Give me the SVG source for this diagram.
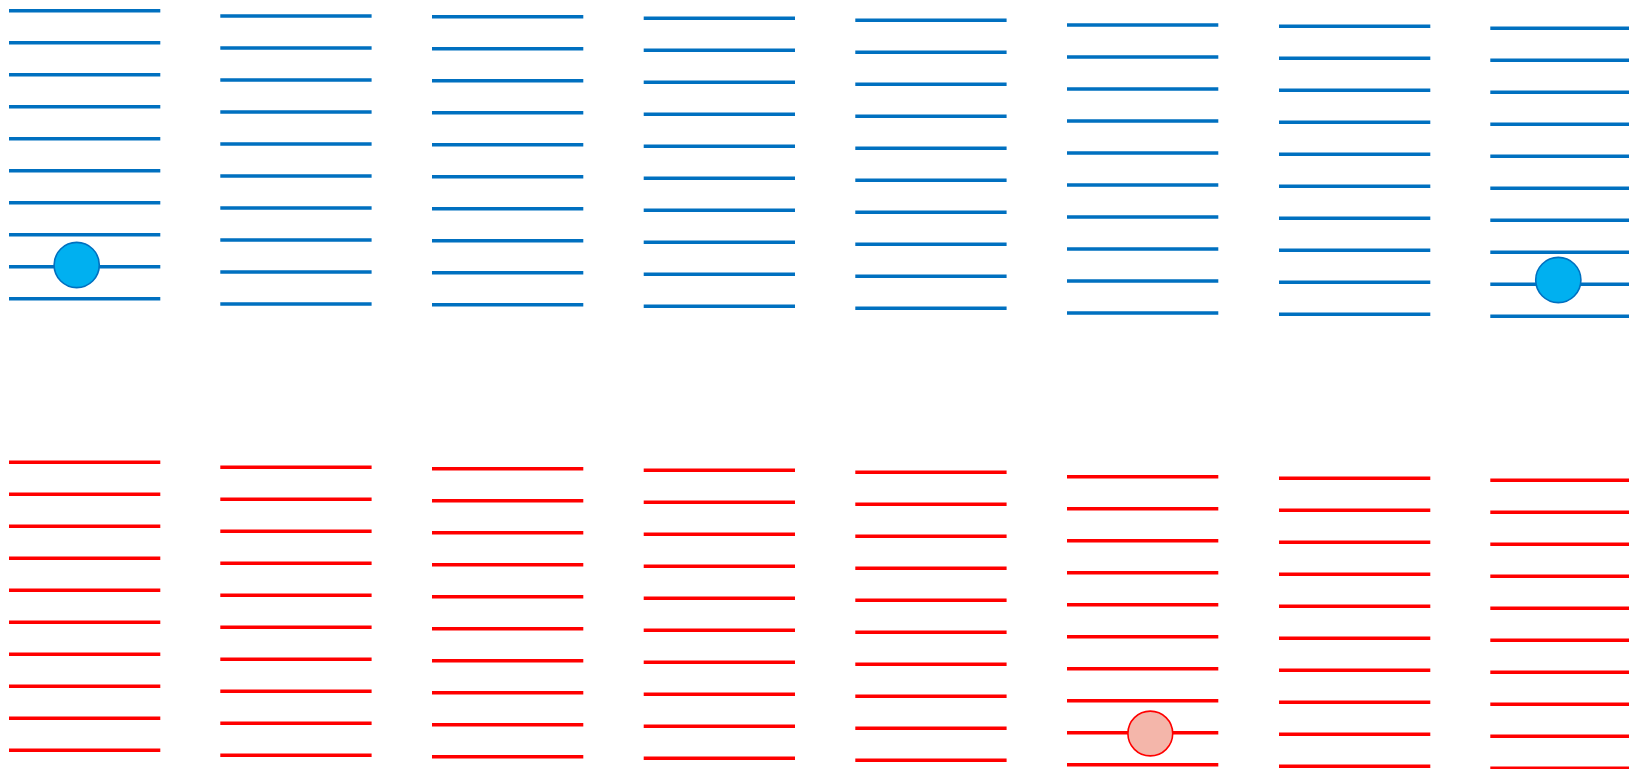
<svg xmlns="http://www.w3.org/2000/svg" width="1629" height="769" viewBox="0 0 1629 769">
<defs>
<style>
.b{stroke:#0070C0;stroke-width:3.4;fill:none}
.r{stroke:#FF0000;stroke-width:3.4;fill:none}
.bc{fill:#00B0F0;stroke:#0070C0;stroke-width:1.6}
.rc{fill:#F4B6AA;stroke:#FF0000;stroke-width:1.6}
</style>
<path id="bl" d="M0 0H151.3M0 32H151.3M0 64H151.3M0 96H151.3M0 128H151.3M0 160H151.3M0 192H151.3M0 224H151.3M0 256H151.3M0 288H151.3"/>
</defs>
<rect width="1629" height="769" fill="#FFFFFF"/>
<g id="blue-row">
<g id="blue-1"><use href="#bl" class="b" x="9" y="10.7"/></g>
<g id="blue-2"><use href="#bl" class="b" x="220.3" y="16"/></g>
<g id="blue-3"><use href="#bl" class="b" x="432" y="16.7"/></g>
<g id="blue-4"><use href="#bl" class="b" x="643.7" y="18.3"/></g>
<g id="blue-5"><use href="#bl" class="b" x="855.3" y="20.3"/></g>
<g id="blue-6"><use href="#bl" class="b" x="1067" y="25"/></g>
<g id="blue-7"><use href="#bl" class="b" x="1279" y="26.3"/></g>
<g id="blue-8"><use href="#bl" class="b" x="1490.3" y="28.3"/></g>
</g>
<g id="red-row">
<g id="red-1"><use href="#bl" class="r" x="9" y="462.3"/></g>
<g id="red-2"><use href="#bl" class="r" x="220.3" y="467.3"/></g>
<g id="red-3"><use href="#bl" class="r" x="432" y="468.7"/></g>
<g id="red-4"><use href="#bl" class="r" x="643.7" y="470.3"/></g>
<g id="red-5"><use href="#bl" class="r" x="855.3" y="472.3"/></g>
<g id="red-6"><use href="#bl" class="r" x="1067" y="476.7"/></g>
<g id="red-7"><use href="#bl" class="r" x="1279" y="478.3"/></g>
<g id="red-8"><use href="#bl" class="r" x="1490.3" y="480.3"/></g>
</g>
<g id="ball-blue-1"><circle class="bc" cx="76.7" cy="265" r="22.6"/></g>
<g id="ball-blue-8"><circle class="bc" cx="1558.3" cy="280" r="22.6"/></g>
<g id="ball-red-6"><circle class="rc" cx="1150.3" cy="733.5" r="22.4"/></g>
<g id="connectors"></g>
</svg>
